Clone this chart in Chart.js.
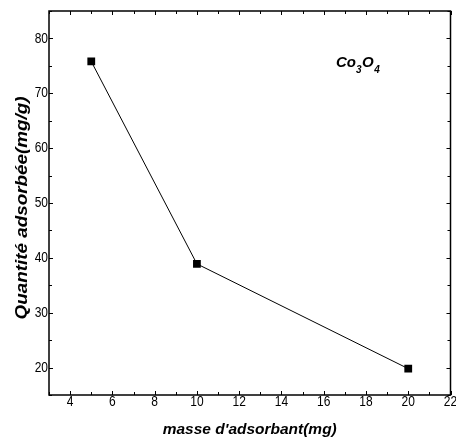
<!DOCTYPE html>
<html>
<head>
<meta charset="utf-8">
<script src="https://cdn.jsdelivr.net/npm/chart.js@4/dist/chart.umd.min.js"></script>
<style>
  html, body { margin: 0; padding: 0; background: #fff; }
  #wrap { width: 456px; height: 439px; }
</style>
</head>
<body>
<div id="wrap"><canvas id="graphe"></canvas></div>
<script>
// données
const masses = [5, 10, 20];
const quantites = [75.8, 38.9, 19.8];
const xTicks = [4, 6, 8, 10, 12, 14, 16, 18, 20, 22];
const yTicks = [20, 30, 40, 50, 60, 70, 80];
const xMinor = [3, 4, 5, 6, 7, 8, 9, 10, 11, 12, 13, 14, 15, 16, 17, 18, 19, 20, 21, 22];
const yMinor = [15, 20, 25, 30, 35, 40, 45, 50, 55, 60, 65, 70, 75, 80, 85];
const titreX = "masse d'adsorbant(mg)";
const titreY = 'Quantité adsorbée(mg/g)';

const police = "'Liberation Sans', Arial, sans-serif";

// texte comprimé / étiré horizontalement pour imiter la police étroite
function texte(c, str, x, y, font, largeur, align) {
    c.font = font;
    const w = c.measureText(str).width;
    const k = largeur ? largeur / w : 0.8;
    c.save();
    c.translate(x, y);
    c.scale(k, 1);
    c.textAlign = align || 'center';
    c.fillText(str, 0, 0);
    c.restore();
}

// cadre + graduations vers l'intérieur + étiquettes + titres
const cadre = {
    id: 'cadre',
    afterDraw(chart) {
        const c = chart.ctx;
        const a = chart.chartArea;
        const sx = chart.scales.x;
        const sy = chart.scales.y;
        c.save();
        c.strokeStyle = '#000';
        c.lineWidth = 1.5;
        c.strokeRect(a.left, a.top, a.right - a.left, a.bottom - a.top);
        c.lineWidth = 1;
        c.beginPath();
        xMinor.forEach(function (v) {
            const px = Math.round(sx.getPixelForValue(v)) + 0.5;
            const len = xTicks.includes(v) ? 4 : 3;
            c.moveTo(px, a.bottom); c.lineTo(px, a.bottom - len);
            c.moveTo(px, a.top); c.lineTo(px, a.top + len);
        });
        yMinor.forEach(function (v) {
            const py = Math.round(sy.getPixelForValue(v)) + 0.5;
            const len = yTicks.includes(v) ? 4 : 3;
            c.moveTo(a.left, py); c.lineTo(a.left + len, py);
            c.moveTo(a.right, py); c.lineTo(a.right - len, py);
        });
        c.stroke();

        c.fillStyle = '#000';
        c.textBaseline = 'middle';
        // étiquettes des graduations
        xTicks.forEach(function (v) {
            texte(c, String(v), sx.getPixelForValue(v), a.bottom + 7, '15px ' + police);
        });
        yTicks.forEach(function (v) {
            texte(c, String(v), a.left - 1, sy.getPixelForValue(v), '15px ' + police, 0, 'right');
        });

        // titres des axes
        texte(c, titreX, (a.left + a.right) / 2, 430, 'italic bold 15px ' + police, 174);
        c.save();
        c.translate(23, 208);
        c.rotate(-Math.PI / 2);
        texte(c, titreY, 0, 0, 'italic bold 16px ' + police, 223);
        c.restore();

        // Co3O4
        let x = 336, y = 67;
        c.textBaseline = 'alphabetic';
        c.textAlign = 'left';
        const grand = 'italic bold 15px ' + police;
        const petit = 'italic bold 10px ' + police;
        c.font = grand; c.fillText('Co', x, y); x += c.measureText('Co').width;
        c.font = petit; c.fillText('3', x, y + 6); x += c.measureText('3').width + 0.5;
        c.font = grand; c.fillText('O', x, y); x += c.measureText('O').width + 0.5;
        c.font = petit; c.fillText('4', x, y + 6);
        c.restore();
    }
};

const ctx = document.getElementById('graphe').getContext('2d');
const graphe = new Chart(ctx, {
    type: 'line',
    data: {
        datasets: [{
            data: masses.map(function (m, i) { return { x: m, y: quantites[i] }; }),
            borderColor: '#000',
            borderWidth: 1,
            backgroundColor: '#000',
            pointStyle: 'rect',
            pointRadius: 5.5,
            pointBorderWidth: 0,
            tension: 0,
            fill: false
        }]
    },
    options: {
        responsive: true,
        maintainAspectRatio: false,
        animation: false,
        layout: { padding: { left: 0, top: 11, right: 5, bottom: 0 } },
        plugins: { legend: { display: false }, tooltip: { enabled: false } },
        scales: {
            x: {
                type: 'linear',
                min: 3,
                max: 22,
                afterBuildTicks: function (s) { s.ticks = xTicks.map(function (v) { return { value: v }; }); },
                afterFit: function (s) { s.height = 44; },
                grid: { display: false, drawTicks: false },
                border: { display: false },
                ticks: { display: false }
            },
            y: {
                min: 15,
                max: 85,
                afterBuildTicks: function (s) { s.ticks = yTicks.map(function (v) { return { value: v }; }); },
                afterFit: function (s) { s.width = 49; },
                grid: { display: false, drawTicks: false },
                border: { display: false },
                ticks: { display: false }
            }
        }
    },
    plugins: [cadre]
});
</script>
</body>
</html>
